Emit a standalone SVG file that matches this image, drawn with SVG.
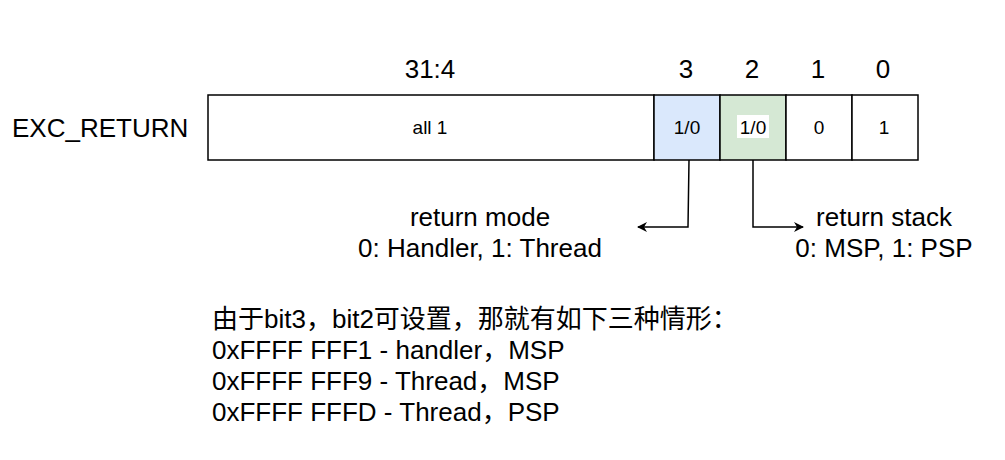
<svg xmlns="http://www.w3.org/2000/svg" width="1005" height="460" viewBox="0 0 1005 460">
<style>
text{font-family:"Liberation Sans","Noto Sans CJK SC",Arial,sans-serif;fill:#000}
.big{font-size:26px}
.sm{font-size:19px}
.cell{stroke:#000;stroke-width:1.5}
.conn{fill:none;stroke:#000;stroke-width:1.5}
</style>
<defs>
<marker id="arr" viewBox="0 0 10 10" refX="9" refY="5" markerWidth="10" markerHeight="10" markerUnits="userSpaceOnUse" orient="auto">
<path d="M0,0 L10,5 L0,10 L3,5 Z" fill="#000"/>
</marker>
</defs>
<rect width="1005" height="460" fill="#fff"/>
<g id="labels">
<text class="big" x="430" y="78" text-anchor="middle">31:4</text>
<text class="big" x="686" y="78" text-anchor="middle">3</text>
<text class="big" x="752" y="78" text-anchor="middle">2</text>
<text class="big" x="818" y="78" text-anchor="middle">1</text>
<text class="big" x="883" y="78" text-anchor="middle">0</text>
<text class="big" x="12" y="137">EXC_RETURN</text>
</g>
<g id="cell-31-4"><rect class="cell" x="208" y="95" width="446" height="65" fill="#fff"/><text class="sm" x="430" y="134" text-anchor="middle">all 1</text></g>
<g id="cell-3"><rect class="cell" x="654" y="95" width="66" height="65" fill="#dae8fc"/><text class="sm" x="687" y="134" text-anchor="middle">1/0</text></g>
<g id="cell-2"><rect class="cell" x="720" y="95" width="66" height="65" fill="#d5e8d4"/><rect x="737" y="115" width="32" height="23" fill="#fff"/><text class="sm" x="753" y="134" text-anchor="middle">1/0</text></g>
<g id="cell-1"><rect class="cell" x="786" y="95" width="66" height="65" fill="#fff"/><text class="sm" x="819" y="134" text-anchor="middle">0</text></g>
<g id="cell-0"><rect class="cell" x="852" y="95" width="66" height="65" fill="#fff"/><text class="sm" x="884" y="134" text-anchor="middle">1</text></g>
<g id="connectors">
<path class="conn" d="M689,160 L688,227 L638,227" marker-end="url(#arr)"/>
<path class="conn" d="M753,160 L753,227 L803,227" marker-end="url(#arr)"/>
</g>
<g id="return-mode">
<text class="big" x="480" y="226" text-anchor="middle">return mode</text>
<text class="big" x="480" y="257" text-anchor="middle">0: Handler, 1: Thread</text>
</g>
<g id="return-stack">
<text class="big" x="884" y="226" text-anchor="middle">return stack</text>
<text class="big" x="884" y="257" text-anchor="middle">0: MSP, 1: PSP</text>
</g>
<g id="note">
<text class="big" x="212" y="328">由于bit3，bit2可设置，那就有如下三种情形：</text>
<text class="big" x="212" y="359">0xFFFF FFF1 - handler，MSP</text>
<text class="big" x="212" y="390">0xFFFF FFF9 - Thread，MSP</text>
<text class="big" x="212" y="421">0xFFFF FFFD - Thread，PSP</text>
</g>
</svg>
